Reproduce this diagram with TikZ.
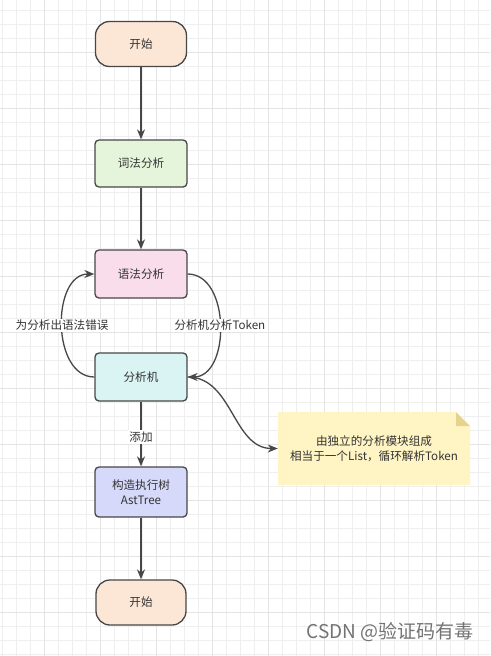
\documentclass[tikz,border=0pt]{standalone}
\usepackage{fontspec}
\setmainfont{Noto Sans CJK SC}
\usetikzlibrary{arrows.meta}
\definecolor{linegray}{HTML}{474747}
\definecolor{textgray}{HTML}{333333}
\definecolor{gridminor}{HTML}{EFEFEF}
\definecolor{gridmajor}{HTML}{E4E4E4}
\definecolor{startfill}{HTML}{FCE7D7}
\definecolor{lexfill}{HTML}{E5F5DC}
\definecolor{synfill}{HTML}{FADDEB}
\definecolor{fxfill}{HTML}{DAF3F3}
\definecolor{astfill}{HTML}{D6D9FA}
\definecolor{notefill}{HTML}{FFF4C3}
\definecolor{notefold}{HTML}{E6D38E}
\begin{document}
\begin{tikzpicture}[x=1pt,y=-1pt,font=\fontsize{11.6}{15}\selectfont,
  procbox/.style={draw=linegray,line width=1.3pt,rounded corners=4pt,
    minimum width=92pt,minimum height=48pt,text=textgray,align=center},
  termbox/.style={procbox,rounded corners=14pt,fill=startfill,
    minimum width=91pt,minimum height=45pt},
  flow/.style={draw=linegray,line width=1.3pt,-{Stealth[length=10pt,width=8pt]}},
  lbl/.style={fill=white,text=textgray,inner sep=1.5pt}]
  \useasboundingbox (0,0) rectangle (490,656);
  \fill[white] (0,0) rectangle (490,656);
  % background grid
  \foreach \x in {2,16,...,490} \draw[gridminor,line width=0.8pt] (\x,0) -- (\x,656);
  \foreach \y in {10,24,...,656} \draw[gridminor,line width=0.8pt] (0,\y) -- (490,\y);
  \foreach \x in {44,100,...,490} \draw[gridmajor,line width=0.8pt] (\x,0) -- (\x,656);
  \foreach \y in {52,108,...,656} \draw[gridmajor,line width=0.8pt] (0,\y) -- (490,\y);
  % flow boxes
  \node[termbox] (start) at (141,44) {开始};
  \node[procbox,fill=lexfill,minimum height=47pt] (lex) at (141,163.5) {词法分析};
  \node[procbox,fill=synfill] (syn) at (141,274) {语法分析};
  \node[procbox,fill=fxfill] (fx) at (141,377) {分析机};
  \node[procbox,fill=astfill,minimum height=50pt] (ast) at (141,492) {构造执行树\\AstTree};
  \node[termbox,minimum width=90pt] (finish) at (141,602.5) {开始};
  % note
  \fill[notefill] (278,412) -- (456,412) -- (470,426) -- (470,485) -- (278,485) -- cycle;
  \fill[notefold] (456,412) -- (470,426) -- (456,426) -- cycle;
  \node[text=textgray,align=center,minimum width=192pt,minimum height=73pt] (note) at (374,448.5)
    {由独立的分析模块组成\\相当于一个List，循环解析Token};
  % connectors
  \draw[flow] (start) -- (lex);
  \draw[flow] (lex) -- (syn);
  \draw[flow] (fx.west) .. controls +(-43,0) and +(-43,0) .. (syn.west)
    node[lbl,midway] (errlbl) {为分析出语法错误};
  \draw[flow] (syn.east) .. controls +(43,0) and +(43,0) .. (fx.east)
    node[lbl,midway] (toklbl) {分析机分析Token};
  \draw[flow] (fx.east) .. controls +(45,0) and +(-45,0) .. (note.west);
  \draw[flow] (fx) -- (ast) node[lbl,pos=0.55] (addlbl) {添加};
  \draw[flow] (ast) -- (finish);
  % watermark
  \node[text=gray!90!black,font=\fontsize{19}{21}\selectfont] (wm) at (390,632) {CSDN @验证码有毒};
\end{tikzpicture}
\end{document}
